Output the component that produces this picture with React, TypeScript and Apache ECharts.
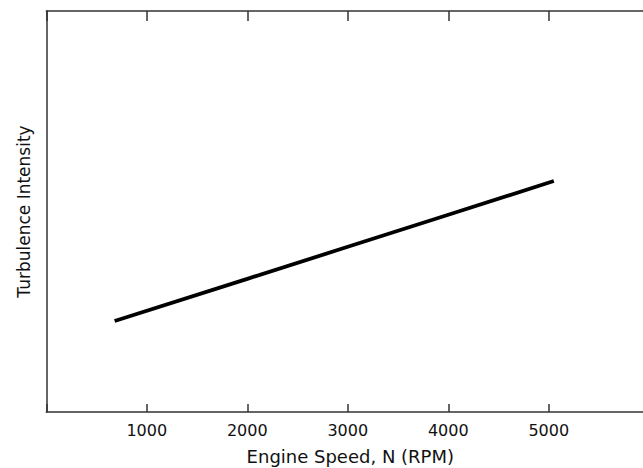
import React, { useEffect, useRef } from "react";
import * as echarts from "echarts";

const speedRPM = [680, 2000, 3000, 4000, 5050];
const turbulence = [22.7, 33.2, 41.2, 49.2, 57.6];
const xTicks = [1000, 2000, 3000, 4000, 5000];

export default function App() {
  const ref = useRef<HTMLDivElement>(null);
  useEffect(() => {
    if (!ref.current) return;
    const chart = echarts.init(ref.current, null, { renderer: "svg" });
    const font = "DejaVu Sans, Verdana, sans-serif";
    chart.setOption({
      animation: false,
      backgroundColor: "#ffffff",
      grid: { left: 46.3, top: 11, width: 603, height: 401, outerBoundsMode: "none", containLabel: false },
      xAxis: [
        {
          type: "value",
          min: 0,
          max: 6000,
          interval: 1000,
          position: "bottom",
          name: "Engine Speed, N (RPM)",
          nameLocation: "middle",
          nameGap: 35,
          nameTextStyle: { fontFamily: font, fontSize: 18, color: "#111", padding: [0, 0, 0, 5] },
          axisLine: { show: true, lineStyle: { color: "#333", width: 1.5 } },
          axisTick: { show: true, inside: true, length: 8, lineStyle: { color: "#333", width: 1.5 } },
          axisLabel: {
            fontFamily: font,
            fontSize: 16,
            color: "#111",
            margin: 10.5,
            showMaxLabel: false,
            formatter: (v: number) => (xTicks.includes(v) ? String(v) : ""),
          },
          splitLine: { show: false },
        },
        {
          type: "value",
          min: 0,
          max: 6000,
          interval: 1000,
          position: "top",
          axisLine: { show: true, lineStyle: { color: "#333", width: 1.5 } },
          axisTick: { show: true, inside: true, length: 10, lineStyle: { color: "#333", width: 1.5 } },
          axisLabel: { show: false },
          splitLine: { show: false },
        },
      ],
      yAxis: {
        type: "value",
        min: 0,
        max: 100,
        name: "Turbulence Intensity",
        nameLocation: "middle",
        nameGap: 14,
        nameTextStyle: { fontFamily: font, fontSize: 17, color: "#111" },
        axisLine: { show: true, lineStyle: { color: "#333", width: 1.5 } },
        axisTick: { show: false },
        axisLabel: { show: false },
        splitLine: { show: false },
      },
      series: [
        {
          type: "line",
          data: speedRPM.map((x, i) => [x, turbulence[i]]),
          showSymbol: false,
          symbol: "none",
          lineStyle: { color: "#000", width: 3.8 },
        },
      ],
    });
    return () => chart.dispose();
  }, []);
  return (
    <div
      ref={ref}
      style={{ position: "fixed", left: 0, top: 0, width: 643, height: 468, background: "#fff" }}
    />
  );
}
